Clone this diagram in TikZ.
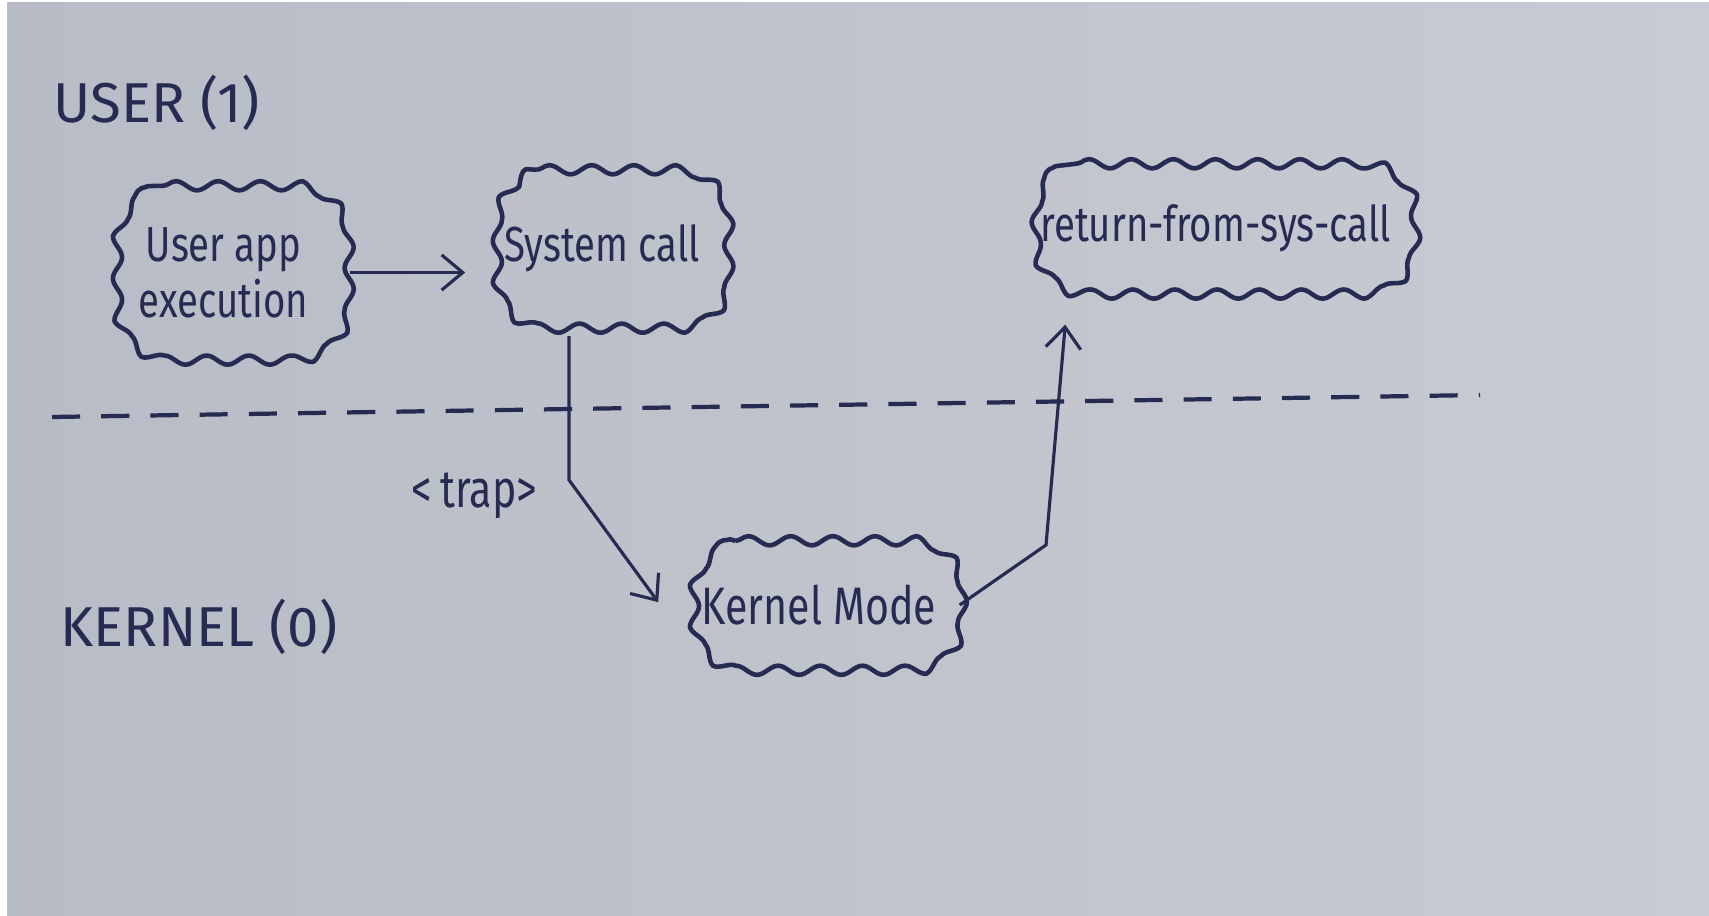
\documentclass[tikz,border=0pt]{standalone}
\usepackage{fontspec}
\setmainfont{Fira Sans}
\newfontfamily\hand[FakeStretch=0.78]{Fira Sans}
\usetikzlibrary{arrows.meta,calc,decorations.pathmorphing}
\definecolor{paper}{RGB}{184,188,198}
\definecolor{paperlight}{RGB}{200,203,211}
\definecolor{ink}{RGB}{38,43,82}
\tikzset{
  puffbox/.style={rectangle, inner sep=0pt, text=ink, font=\hand\fontsize{14}{16}\selectfont, align=center},
  puffline/.style={draw=ink, line width=1.3pt, line join=round,
    decorate, decoration={snake, amplitude=1.3pt, segment length=12pt}},
  flow/.style={draw=ink, line width=0.9pt, -{Straight Barb[length=6pt,width=10pt]}},
  modelabel/.style={text=ink, font=\fontsize{16}{18}\selectfont, inner sep=0pt},
  boundary/.style={draw=ink, line width=1.2pt, dash pattern=on 8pt off 6pt},
}
% wavy rounded outline around a named node; #2 is the corner radius
\newcommand{\puffborder}[2]{%
  \draw[puffline]
    ([xshift=#2]#1.north west) -- ([xshift=-#2]#1.north east)
    arc[start angle=90, end angle=0, radius=#2]
    -- ([yshift=#2]#1.south east)
    arc[start angle=0, end angle=-90, radius=#2]
    -- ([xshift=#2]#1.south west)
    arc[start angle=270, end angle=180, radius=#2]
    -- ([yshift=-#2]#1.north west)
    arc[start angle=180, end angle=90, radius=#2] -- cycle;}
\begin{document}
\begin{tikzpicture}
% paper
\fill[white] (0,0) rectangle (17.09,-9.16);
\shade[left color=paper, right color=paperlight] (0.07,-0.03) rectangle (17.09,-9.16);
\useasboundingbox (0,0) rectangle (17.09,-9.16);

% privilege level labels
\node[modelabel] (user) at (1.57,-1.03) {USER (1)};
\node[modelabel] (kernel) at (1.99,-6.27) {KERNEL (0)};

% user / kernel boundary
\coordinate (bl) at (0.52,-4.17);
\coordinate (br) at (14.80,-3.95);
\draw[boundary] (bl) -- (br);

% states
\node[puffbox, minimum width=2.3cm, minimum height=1.72cm] (app) at (2.235,-2.725) {User app\\execution};
\node[puffbox, minimum width=2.3cm, minimum height=1.55cm] (sys) at (6.02,-2.48) {System call};
\node[puffbox, minimum width=3.78cm, minimum height=1.28cm] (ret) at (12.155,-2.285) {return-from-sys-call};
\node[puffbox, minimum width=2.66cm, minimum height=1.27cm, font=\hand\fontsize{15}{17}\selectfont] (km) at (8.19,-6.05) {Kernel Mode};
\puffborder{app}{0.55cm}
\puffborder{sys}{0.5cm}
\puffborder{ret}{0.5cm}
\puffborder{km}{0.5cm}

% trap label
\node[text=ink, font=\hand\fontsize{15}{17}\selectfont, inner sep=0pt] (trap) at (4.74,-4.96) {<\,trap>};

% transitions
\draw[flow, shorten >=6pt] ([xshift=3pt]app.east) -- (app.east -| sys.west);

\coordinate (tb) at (5.69,-4.80);
\draw[flow, shorten >=1pt] (tb |- sys.south) ++(0,-0.1) -- (tb) -- ([xshift=-0.25cm]km.west);

\coordinate (rb) at (10.46,-5.45);
\coordinate (rx) at (10.68,0);
\draw[flow, shorten >=9pt] ([xshift=2pt]km.east) -- (rb) -- (rx |- ret.south);
\end{tikzpicture}
\end{document}
